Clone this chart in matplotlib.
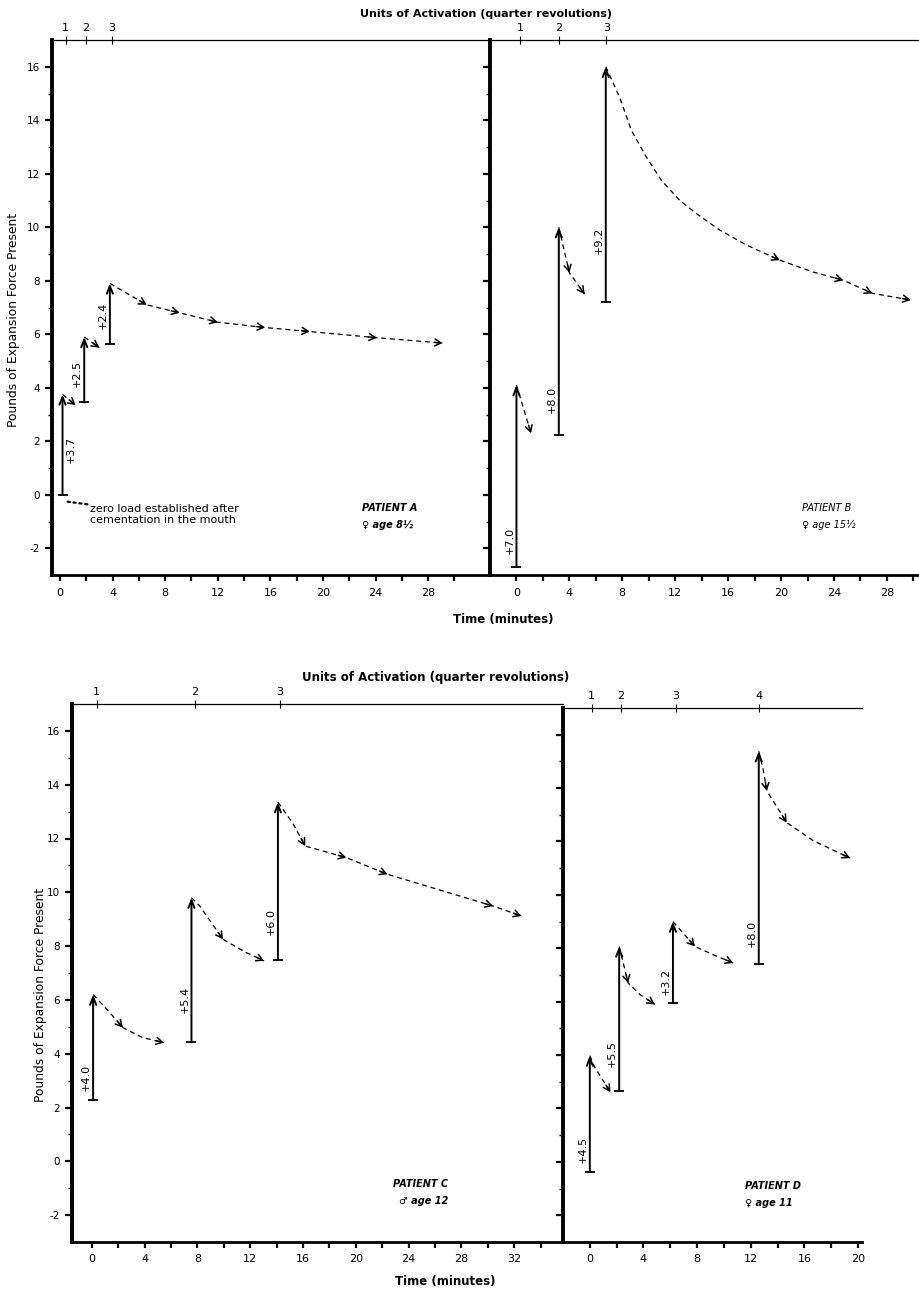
import numpy as np
import matplotlib.pyplot as plt

plt.rcParams["axes.unicode_minus"] = False

# ---- data ----
# activation arrows: time, force before, force after, printed gain
a_t = [0.2, 1.85, 3.8]
a_lo = [0.0, 3.45, 5.65]
a_hi = [3.75, 5.9, 7.9]
a_gain = ["+3.7", "+2.5", "+2.4"]
a_units = [0.45, 1.95, 3.95]
a_decay_x = [[0.2, 1.2], [1.85, 3.0],
             [3.8, 6.6, 9.1, 12.0, 15.6, 19.0, 24.1, 29.1]]
a_decay_y = [[3.75, 3.35], [5.9, 5.5],
             [7.9, 7.1, 6.8, 6.45, 6.25, 6.1, 5.87, 5.67]]
a_heads = [[1], [1], [1, 2, 3, 4, 5, 6, 7]]

b_t = [0.0, 3.2, 6.75]
b_lo = [-2.7, 2.25, 7.2]
b_hi = [4.1, 10.0, 16.0]
b_gain = ["+7.0", "+8.0", "+9.2"]
b_units = [0.3, 3.2, 6.8]
b_decay_x = [[0.0, 1.1], [3.2, 4.0, 5.15],
             [6.75, 7.8, 8.69, 9.82, 10.96, 12.35, 13.6, 15.38, 17.4, 19.9,
              22.4, 24.7, 26.9, 29.8]]
b_decay_y = [[4.1, 2.3], [10.0, 8.3, 7.5],
             [16.0, 14.86, 13.62, 12.62, 11.75, 11.0, 10.51, 9.89, 9.33, 8.77,
              8.33, 8.02, 7.53, 7.28]]
b_heads = [[1], [1, 2], [9, 11, 12, 13]]

c_t = [0.1, 7.55, 14.1]
c_lo = [2.27, 4.42, 7.5]
c_hi = [6.2, 9.8, 13.35]
c_gain = ["+4.0", "+5.4", "+6.0"]
c_units = [0.37, 7.8, 14.25]
c_decay_x = [[0.1, 1.14, 2.36, 3.84, 5.47], [7.55, 8.18, 9.94, 11.7, 13.05],
             [14.1, 15.2, 16.17, 19.28, 22.4, 30.4, 32.55]]
c_decay_y = [[6.2, 5.65, 4.97, 4.6, 4.41], [9.8, 9.49, 8.25, 7.76, 7.45],
             [13.35, 12.59, 11.72, 11.29, 10.67, 9.49, 9.12]]
c_heads = [[2, 4], [2, 4], [2, 3, 4, 5, 6]]

d_t = [0.0, 2.19, 6.2, 12.6]
d_lo = [-0.36, 2.65, 5.96, 7.41]
d_hi = [3.98, 8.07, 9.0, 15.38]
d_gain = ["+4.5", "+5.5", "+3.2", "+8.0"]
d_units = [0.15, 2.3, 6.4, 12.6]
d_decay_x = [[0.0, 0.37, 1.54], [2.19, 2.86, 3.73, 4.85],
             [6.2, 7.84, 9.2, 10.7], [12.6, 12.93, 13.2, 14.68, 16.67, 19.4]]
d_decay_y = [[3.98, 3.54, 2.61], [8.07, 6.7, 6.27, 5.9],
             [9.0, 8.07, 7.76, 7.45], [15.38, 14.7, 13.9, 12.71, 12.03, 11.38]]
d_heads = [[2], [1, 3], [1, 3], [2, 3, 5]]

W, H = 920, 1291
fig = plt.figure(figsize=(W / 100, H / 100), dpi=100)


def rect(x0, y0, x1, y1):
    # pixel box -> figure fraction
    return [x0 / W, 1 - y1 / H, (x1 - x0) / W, (y1 - y0) / H]


def panel(box, xlim, lab_max, tick_max, t, lo, hi, gain, units, dx, dy, heads,
          lab_y, lab_side, show_ylab):
    ax = fig.add_axes(rect(*box))
    ax.set_xlim(*xlim)
    ax.set_ylim(-3, 17)
    ax.set_xticks(np.arange(0, lab_max + 1, 4))
    ax.set_xticks(np.arange(0, tick_max + 1, 2), minor=True)
    ax.set_yticks(np.arange(-2, 17, 2))
    ax.set_yticks(np.arange(-1, 17, 2), minor=True)
    ax.tick_params(axis="x", which="both", direction="out", length=4,
                   width=1.6, labelsize=8, pad=5)
    ax.tick_params(axis="y", which="major", direction="out", length=5,
                   width=1.6, labelsize=7.5, labelleft=show_ylab)
    ax.tick_params(axis="y", which="minor", direction="out", length=3, width=1)
    ax.spines["left"].set_linewidth(2.8)
    ax.spines["bottom"].set_linewidth(2.0)
    ax.spines["right"].set_visible(False)
    ax.spines["top"].set_visible(False)
    ax.patch.set_alpha(0)

    top = ax.twiny()
    top.set_xlim(ax.get_xlim())
    top.set_xticks(units)
    top.set_xticklabels([str(i + 1) for i in range(len(units))])
    top.tick_params(axis="x", direction="inout", length=6, width=0.8,
                    labelsize=8, pad=2)
    for s in ["left", "right", "bottom"]:
        top.spines[s].set_visible(False)
    top.spines["top"].set_linewidth(0.9)

    # activation arrows
    ax.plot(t, lo, ls="none", marker="_", ms=7, mew=1.3, color="black")
    for i in range(len(t)):
        ax.annotate("", xy=(t[i], hi[i]), xytext=(t[i], lo[i]),
                    arrowprops=dict(arrowstyle="->,head_length=0.55,head_width=0.22",
                                    lw=1.4, color="black", shrinkA=0, shrinkB=0))
        off = -5 if lab_side[i] == "l" else 6
        ax.annotate(gain[i], xy=(t[i], lab_y[i]), xytext=(off, 0),
                    textcoords="offset points", rotation=90, fontsize=8,
                    ha="center", va="center")

    # relaxation curves
    for k in range(len(dx)):
        ax.plot(dx[k], dy[k], color="black", lw=0.9, ls=(0, (4, 3)))
        for j in heads[k]:
            p1 = ax.transData.transform((dx[k][j], dy[k][j]))
            p0 = ax.transData.transform((dx[k][j - 1], dy[k][j - 1]))
            u = (p1 - p0) / np.hypot(*(p1 - p0))
            ax.annotate("", xy=(dx[k][j], dy[k][j]), xytext=(-u[0] * 6, -u[1] * 6),
                        textcoords="offset points",
                        arrowprops=dict(arrowstyle="->,head_length=0.45,head_width=0.25",
                                        lw=1.1, color="black", shrinkA=0, shrinkB=0))
    return ax


axA = panel((52, 40, 490, 575), (-0.6, 32.7), 28, 30, a_t, a_lo, a_hi, a_gain,
            a_units, a_decay_x, a_decay_y, a_heads, [1.7, 4.55, 6.7], "rll", True)
axB = panel((490, 40, 920, 575), (-2.0, 30.5), 28, 30, b_t, b_lo, b_hi, b_gain,
            b_units, b_decay_x, b_decay_y, b_heads, [-1.7, 3.55, 9.5], "lll", False)
axC = panel((72, 704, 563, 1242), (-1.5, 35.7), 32, 34, c_t, c_lo, c_hi, c_gain,
            c_units, c_decay_x, c_decay_y, c_heads, [3.1, 6.0, 8.9], "lll", True)
axD = panel((563, 708, 862, 1242), (-2.0, 20.3), 20, 20, d_t, d_lo, d_hi, d_gain,
            d_units, d_decay_x, d_decay_y, d_heads, [0.45, 4.05, 6.75, 8.55],
            "llll", False)

# notes
axA.annotate("zero load established after\ncementation in the mouth",
             xy=(0.45, -0.25), xytext=(2.3, -0.75), fontsize=8, va="center",
             linespacing=1.1,
             arrowprops=dict(arrowstyle="-", ls=":", lw=1.6, color="black",
                             shrinkA=0, shrinkB=0))
axA.text(23.0, -0.6, "PATIENT A", fontsize=7, style="italic", weight="bold")
axA.text(23.0, -1.25, "♀ age 8½", fontsize=7, style="italic", weight="bold")
axB.text(21.6, -0.6, "PATIENT B", fontsize=7, style="italic")
axB.text(21.6, -1.25, "♀ age 15½", fontsize=7, style="italic")
axC.text(22.8, -0.95, "PATIENT C", fontsize=7, style="italic", weight="bold")
axC.text(23.3, -1.6, "♂ age 12", fontsize=7, style="italic", weight="bold")
axD.text(11.6, -1.0, "PATIENT D", fontsize=7, style="italic", weight="bold")
axD.text(11.6, -1.65, "♀ age 11", fontsize=7, style="italic", weight="bold")

# figure labels
fig.text(486 / W, 1 - 14 / H, "Units of Activation (quarter revolutions)",
         ha="center", va="center", fontsize=8, weight="bold")
fig.text(503 / W, 1 - 620 / H, "Time (minutes)", ha="center", va="center",
         fontsize=8.5, weight="bold")
fig.text(14 / W, 1 - 320 / H, "Pounds of Expansion Force Present", rotation=90,
         ha="center", va="center", fontsize=8.8)
fig.text(436 / W, 1 - 678 / H, "Units of Activation (quarter revolutions)",
         ha="center", va="center", fontsize=8.5, weight="bold")
fig.text(445 / W, 1 - 1281 / H, "Time (minutes)", ha="center", va="center",
         fontsize=8.5, weight="bold")
fig.text(41 / W, 1 - 995 / H, "Pounds of Expansion Force Present", rotation=90,
         ha="center", va="center", fontsize=8.8)

fig.savefig("out.png", dpi=100)
